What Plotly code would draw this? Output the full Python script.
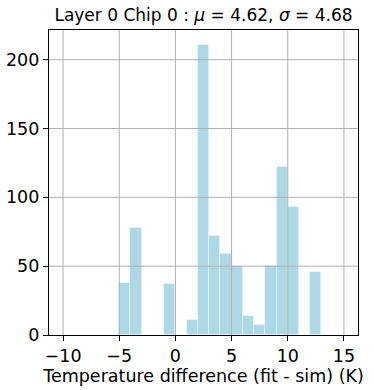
import plotly.graph_objs as go

# histogram data: left bin edges (bin width 1 K) and counts
bin_left = [-5, -4, -1, 1, 2, 3, 4, 5, 6, 7, 8, 9, 10, 12]
counts = [38, 78, 37, 11, 211, 72, 59, 50, 14, 7, 50, 122, 93, 46]
bin_width = 1
x_ticks = [-10, -5, 0, 5, 10, 15]
y_ticks = [0, 50, 100, 150, 200]

mu, sigma = 4.62, 4.68

fig = go.Figure()
fig.add_trace(go.Bar(
    x=[b + bin_width / 2 for b in bin_left],
    y=counts,
    width=bin_width,
    marker_color="rgb(173,216,230)",
    marker_line=dict(width=0.8, color="rgba(255,255,255,0.45)"),
    showlegend=False,
))

# grid drawn above the bars, as matplotlib does here
grid = dict(type="line", layer="above", line=dict(color="#b0b0b0", width=1))
for t in x_ticks:
    fig.add_shape(grid, xref="x", yref="paper", x0=t, x1=t, y0=0, y1=1)
for t in y_ticks[1:]:
    fig.add_shape(grid, xref="paper", yref="y", x0=0, x1=1, y0=t, y1=t)

axis_style = dict(
    showline=True, mirror=True, linecolor="black", linewidth=1.2,
    ticks="outside", ticklen=5, tickcolor="black", tickwidth=1.2,
    showgrid=False, zeroline=False, layer="above traces",
    tickfont=dict(size=17.5, color="black"), automargin=False,
)

fig.update_layout(
    template="none",
    width=374, height=390,
    margin=dict(l=49, r=16, t=30, b=55),
    plot_bgcolor="white", paper_bgcolor="white",
    font=dict(family="DejaVu Sans", color="black"),
    bargap=0,
    title=dict(
        text=f"Layer 0 Chip 0 : <i>μ</i> = {mu:.2f}, <i>σ</i> = {sigma:.2f}",
        xref="paper", x=0.5, xanchor="center",
        yref="container", y=0.962, yanchor="middle",
        font=dict(size=17),
    ),
    xaxis=dict(axis_style, range=[-11.25, 16.25], tickvals=x_ticks,
               ticktext=[str(t).replace("-", "−") for t in x_ticks],
               title=dict(text="Temperature difference (fit - sim) (K)",
                          font=dict(size=17.5), standoff=2)),
    yaxis=dict(axis_style, range=[0, 221.55], tickvals=y_ticks),
)

# the page body has a default 8px margin; remove it so the figure fills the window
fig.write_html("out.html", config={"displayModeBar": False},
               post_script="document.body.style.margin='0';")
